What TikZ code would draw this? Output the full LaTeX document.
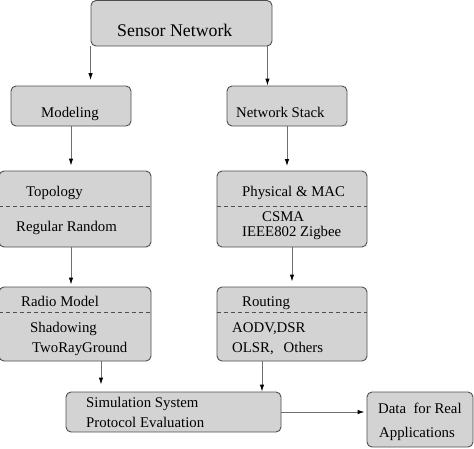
\documentclass[tikz,border=0pt]{standalone}
\usepackage{fontspec}
\setmainfont{Liberation Serif}
\usepackage{tikz}
\usetikzlibrary{arrows.meta,calc}
\newcommand{\arrowtip}{-{Latex[length=7pt,width=4.5pt,color=black]}}
\definecolor{boxfill}{HTML}{D3D3D3}
\definecolor{boxline}{HTML}{4E4E4E}
\definecolor{wire}{HTML}{6E6E6E}

\tikzset{
  block/.style={draw=boxline, fill=boxfill, rounded corners=5pt, line width=0.9pt, inner sep=0pt},
  txt/.style={anchor=base west, inner sep=0pt, font=\fontsize{14.8}{17}\selectfont},
  divider/.style={draw=boxline, dash pattern=on 4pt off 3pt, line width=0.7pt},
  link/.style={draw=wire, line width=0.9pt}
}

\begin{document}
\begin{tikzpicture}[x=1pt,y=-1pt]
            \useasboundingbox (0,0) rectangle (474,448);
            % boxes
            \node[block, minimum width=181pt, minimum height=45.5pt] (sensor) at (181.5,23.25) {};
            \node[block, minimum width=120pt, minimum height=40pt] (modeling) at (71,106) {};
            \node[block, minimum width=120pt, minimum height=40pt] (netstack) at (287,106) {};
            \node[block, minimum width=152pt, minimum height=76pt] (topology) at (75,209) {};
            \node[block, minimum width=150pt, minimum height=76pt] (physmac) at (292,209) {};
            \node[block, minimum width=152pt, minimum height=74pt] (radio) at (75,324) {};
            \node[block, minimum width=150pt, minimum height=74pt] (routing) at (292,324) {};
            \node[block, minimum width=215pt, minimum height=40pt] (sim) at (173.5,412) {};
            \node[block, minimum width=106pt, minimum height=55pt] (data) at (420,419.5) {};
            \draw[divider] ([yshift=3pt]topology.west) -- ([yshift=3pt]topology.east);
            \draw[divider] ([yshift=3pt]physmac.west) -- ([yshift=3pt]physmac.east);
            \draw[divider] ([yshift=12pt]radio.west) -- ([yshift=12pt]radio.east);
            \draw[divider] ([yshift=12pt]routing.west) -- ([yshift=12pt]routing.east);
            % texts
            \node[txt, font=\fontsize{17.8}{20}\selectfont] (sensor text) at (117,36.7) {Sensor Network};
            \node[txt] (modeling text) at (41,117.3) {Modeling};
            \node[txt] (netstack text) at (236,117.3) {Network Stack};
            \node[txt] (topology text) at (26,196.7) {Topology};
            \node[txt] (regular text) at (16,231.7) {Regular Random};
            \node[txt] (physmac text) at (242,196.7) {Physical \& MAC};
            \node[txt] (csma text) at (262,221.7) {CSMA};
            \node[txt] (ieee text) at (242,236.7) {IEEE802 Zigbee};
            \node[txt] (radio text) at (21,306.7) {Radio Model};
            \node[txt] (shadow text) at (30,332.3) {Shadowing};
            \node[txt] (tworay text) at (32,352.3) {TwoRayGround};
            \node[txt] (routing text) at (242,306.7) {Routing};
            \node[txt] (aodv text) at (232,332.3) {AODV,DSR};
            \node[txt] (olsr text) at (232,352.3) {OLSR,\hspace{10pt}Others};
            \node[txt] (sim text) at (86,407.7) {Simulation System};
            \node[txt] (eval text) at (86,427.7) {Protocol Evaluation};
            \node[txt] (data text) at (378,413.3) {Data~ for Real};
            \node[txt] (apps text) at (379,437.7) {Applications};
            % arrows
            \draw[link,\arrowtip,shorten >=5.5pt] (sensor.south west) -- (sensor.south west |- modeling.north);
            \draw[link,\arrowtip] ([xshift=-5pt]sensor.south east) -- ([xshift=-5pt]sensor.south east |- netstack.north);
            \draw[link,\arrowtip,shorten >=5pt] (modeling.south) -- (modeling.south |- topology.north);
            \draw[link,\arrowtip,shorten >=4.5pt] (netstack.south) -- (netstack.south |- physmac.north);
            \draw[link,\arrowtip,shorten >=2pt] ([xshift=-4pt]topology.south) -- ([xshift=-4pt]topology.south |- radio.north);
            \draw[link,\arrowtip,shorten >=5pt] (physmac.south) -- (physmac.south |- routing.north);
            \draw[link,\arrowtip,shorten >=7pt] ([xshift=26pt]radio.south) -- ([xshift=26pt]radio.south |- sim.north);
            \draw[link,\arrowtip] ([xshift=-30pt]routing.south) -- ([xshift=-30pt]routing.south |- sim.north);
            \draw[link,\arrowtip,shorten >=2pt] (sim.east) -- (sim.east -| data.west);
        \end{tikzpicture}
\end{document}
